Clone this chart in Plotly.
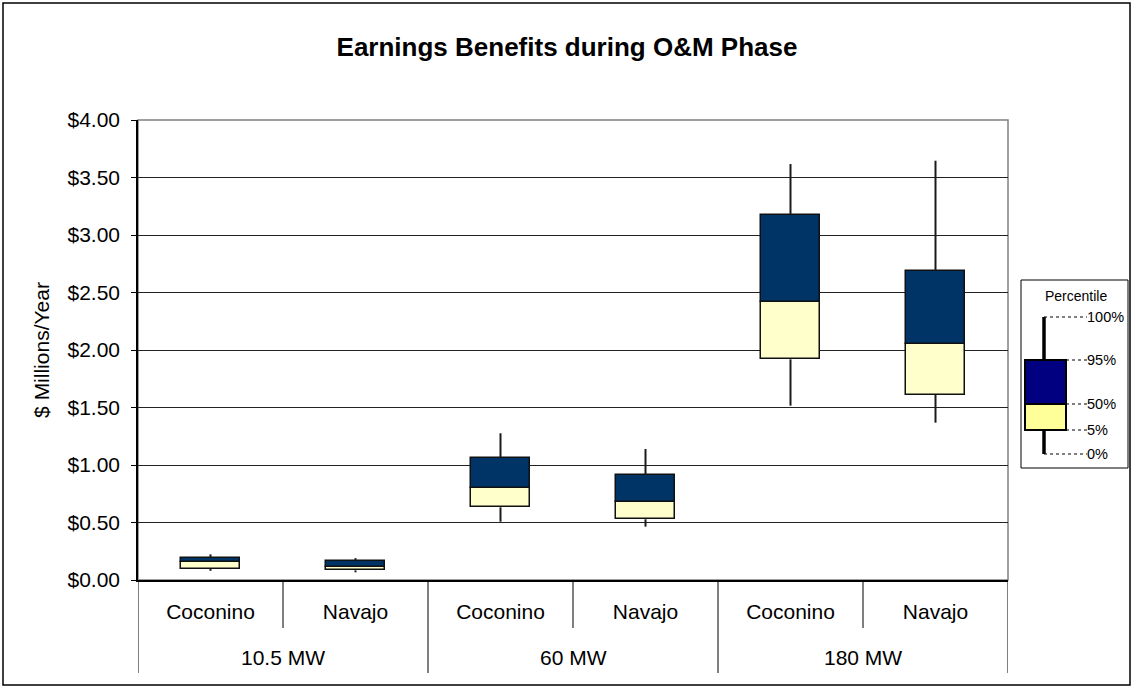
import plotly.graph_objects as go

# capacity groups and sites (two-level category axis)
groups = ["10.5 MW", "10.5 MW", "60 MW", "60 MW", "180 MW", "180 MW"]
sites = ["Coconino", "Navajo", "Coconino", "Navajo", "Coconino", "Navajo"]

# percentiles, $ millions / year
p0 = [0.080, 0.067, 0.507, 0.464, 1.516, 1.368]
p5 = [0.098, 0.084, 0.632, 0.528, 1.919, 1.609]
p50 = [0.155, 0.115, 0.797, 0.676, 2.420, 2.050]
p95 = [0.194, 0.162, 1.064, 0.913, 3.171, 2.687]
p100 = [0.223, 0.190, 1.276, 1.139, 3.617, 3.646]

legend_labels = ["100%", "95%", "50%", "5%", "0%"]

FONT = "Arial, 'Liberation Sans', sans-serif"
W, H = 1134, 688
L, R, T, B = 138, 1008, 120, 580  # plot area in pixels


def px(x):
    return (x - L) / (R - L)


def py(y):
    return (B - y) / (B - T)


xs = list(range(len(sites)))
fig = go.Figure()

# whiskers: 0%-5% and 95%-100% segments
wx, wy = [], []
for i in xs:
    wx += [i, i, None, i, i, None]
    wy += [p0[i], p5[i], None, p95[i], p100[i], None]
fig.add_trace(go.Scatter(
    x=wx, y=wy, mode="lines", line=dict(color="#1a1a1a", width=2),
    hoverinfo="skip", showlegend=False, connectgaps=False,
))

fig.add_trace(go.Bar(
    x=xs, y=[m - l for m, l in zip(p50, p5)], base=p5,
    marker=dict(color="#FFFFCC", line=dict(color="#111", width=1.5)),
    width=0.41, showlegend=False, name="5%-50%",
))
fig.add_trace(go.Bar(
    x=xs, y=[h - m for h, m in zip(p95, p50)], base=p50,
    marker=dict(color="#003366", line=dict(color="#111", width=1.5)),
    width=0.41, showlegend=False, name="50%-95%",
))

shapes = [
    # outer chart border
    dict(type="rect", xref="paper", yref="paper", x0=px(3), x1=px(1130), y0=py(3), y1=py(685),
         line=dict(color="black", width=1.5), layer="below"),
    # plot area border
    dict(type="rect", xref="paper", yref="paper", x0=0, x1=1, y0=0, y1=1,
         line=dict(color="#808080", width=1.5), layer="below"),
]

# category dividers: short between sites, long between capacity groups
group_names = list(dict.fromkeys(groups))
group_centers = []
for g in group_names:
    idx = [i for i, gg in enumerate(groups) if gg == g]
    group_centers.append(sum(idx) / len(idx))
for i in range(len(sites) + 1):
    xb = i - 0.5
    is_group_edge = i == 0 or i == len(sites) or groups[i] != groups[i - 1]
    shapes.append(dict(type="line", xref="x", yref="paper", x0=xb, x1=xb, y0=0,
                       y1=py(673 if is_group_edge else 628),
                       line=dict(color="black", width=1)))

# percentile key
shapes.append(dict(type="rect", xref="paper", yref="paper", x0=px(1021), x1=px(1128),
                   y0=py(280), y1=py(468), line=dict(color="black", width=1), fillcolor="white"))
key_y = [317, 360, 404, 430, 454]
shapes += [
    dict(type="line", xref="paper", yref="paper", x0=px(1044), x1=px(1044), y0=py(317), y1=py(360),
         line=dict(color="black", width=3.5)),
    dict(type="line", xref="paper", yref="paper", x0=px(1044), x1=px(1044), y0=py(430), y1=py(454),
         line=dict(color="black", width=3.5)),
    dict(type="rect", xref="paper", yref="paper", x0=px(1025), x1=px(1066), y0=py(360), y1=py(404),
         line=dict(color="black", width=2), fillcolor="#000080"),
    dict(type="rect", xref="paper", yref="paper", x0=px(1025), x1=px(1066), y0=py(404), y1=py(430),
         line=dict(color="black", width=2), fillcolor="#FFFF99"),
]
for i, yy in enumerate(key_y):
    x0 = 1044 if i in (0, 4) else 1066
    shapes.append(dict(type="line", xref="paper", yref="paper", x0=px(x0), x1=px(1087),
                       y0=py(yy), y1=py(yy), line=dict(color="black", width=1, dash="dot")))

annotations = [dict(text="Percentile", xref="paper", yref="paper", x=px(1076), y=py(296),
                    xanchor="center", yanchor="middle", showarrow=False,
                    font=dict(family=FONT, size=14, color="black"))]
for lab, yy in zip(legend_labels, key_y):
    annotations.append(dict(text=lab, xref="paper", yref="paper", x=px(1087), y=py(yy),
                            xanchor="left", yanchor="middle", xshift=-2, showarrow=False,
                            font=dict(family=FONT, size=14.5, color="black")))
for g, c in zip(group_names, group_centers):
    annotations.append(dict(text=g, xref="x", yref="paper", x=c, y=py(657),
                            xanchor="center", yanchor="middle", showarrow=False,
                            font=dict(family=FONT, size=21, color="black")))

fig.update_layout(
    width=W, height=H,
    margin=dict(l=L, r=W - R, t=T, b=H - B),
    paper_bgcolor="white", plot_bgcolor="white",
    font=dict(family=FONT, color="black"),
    barmode="overlay", bargap=0,
    title=dict(text="<b>Earnings Benefits during O&M Phase</b>", x=0.5, xanchor="center",
               y=1 - 47 / H, yanchor="middle", yref="container",
               font=dict(family=FONT, size=26, color="black")),
    xaxis=dict(
        range=[-0.5, len(sites) - 0.5], tickvals=xs, ticktext=sites,
        showline=True, linecolor="black", linewidth=1.5,
        ticks="", ticklabelstandoff=12, showgrid=False, zeroline=False,
        tickfont=dict(family=FONT, size=21, color="black"),
    ),
    yaxis=dict(
        range=[0, 4], dtick=0.5, tickformat="$.2f",
        showline=True, linecolor="black", linewidth=1.5,
        ticks="outside", ticklen=5, tickcolor="black", ticklabelstandoff=7,
        gridcolor="#222", gridwidth=1, zeroline=False,
        tickfont=dict(family=FONT, size=21, color="black"),
        title=dict(text="$ Millions/Year", font=dict(family=FONT, size=21, color="black"), standoff=12),
    ),
    shapes=shapes,
    annotations=annotations,
)

fig.write_html("out.html", config={"displayModeBar": False},
               post_script="document.body.style.margin='0';")
